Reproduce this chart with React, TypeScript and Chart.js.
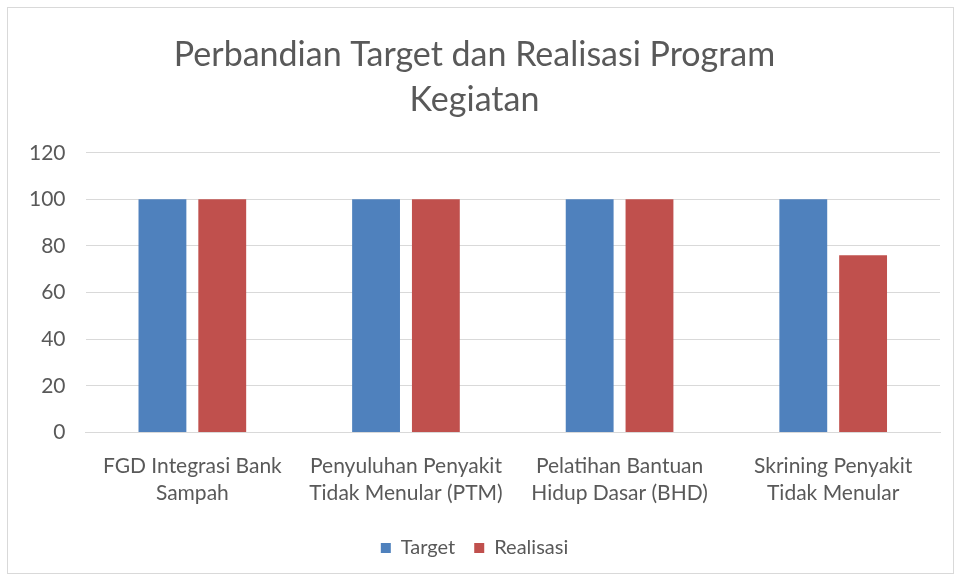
import React, { useEffect, useRef } from "react";
import { Chart, registerables } from "chart.js";

Chart.register(...registerables);

const categories: string[][] = [
  ["FGD Integrasi Bank", "Sampah"],
  ["Penyuluhan Penyakit", "Tidak Menular (PTM)"],
  ["Pelatihan Bantuan", "Hidup Dasar (BHD)"],
  ["Skrining Penyakit", "Tidak Menular"],
];
const targetValues = [100, 100, 100, 100];
const realisasiValues = [100, 100, 100, 76];
const titleLines = ["Perbandian Target dan Realisasi Program", "Kegiatan"];

const FONT = "Lato, 'Open Sans', sans-serif";
const TEXT = "#595959";

export default function App() {
  const ref = useRef<HTMLCanvasElement | null>(null);
  useEffect(() => {
    document.body.style.margin = "0";
    const ctx = ref.current!;
    const chart = new Chart(ctx, {
      type: "bar",
      data: {
        labels: categories,
        datasets: [
          {
            label: "Target",
            data: targetValues,
            backgroundColor: "#4F81BD",
            categoryPercentage: 0.56,
            barPercentage: 0.8,
          },
          {
            label: "Realisasi",
            data: realisasiValues,
            backgroundColor: "#C0504D",
            categoryPercentage: 0.56,
            barPercentage: 0.8,
          },
        ],
      },
      options: {
        animation: false,
        responsive: false,
        maintainAspectRatio: false,
        layout: { padding: { left: 1, right: 13, top: 25, bottom: 5 } },
        plugins: {
          title: {
            display: true,
            text: titleLines,
            color: TEXT,
            font: { family: FONT, size: 34, weight: "normal", lineHeight: 1.32 },
            padding: { top: 0, bottom: 30 },
          },
          legend: {
            position: "bottom",
            labels: {
              color: TEXT,
              font: { family: FONT, size: 20 },
              boxWidth: 10,
              boxHeight: 10,
              padding: 19,
            },
          },
          tooltip: { enabled: false },
        },
        scales: {
          x: {
            grid: { display: false },
            border: { color: "#d9d9d9" },
            ticks: {
              color: TEXT,
              font: { family: FONT, size: 21, lineHeight: 1.3 },
              maxRotation: 0,
              autoSkip: false,
              padding: 12,
            },
          },
          y: {
            min: 0,
            max: 120,
            ticks: {
              stepSize: 20,
              color: TEXT,
              font: { family: FONT, size: 21 },
              padding: 20,
            },
            grid: { color: "#d9d9d9", drawTicks: false },
            border: { display: false },
          },
        },
      },
    });
    return () => chart.destroy();
  }, []);
  return (
    <div style={{ width: 961, height: 581, position: "relative", background: "#fff" }}>
      <div
        style={{
          position: "absolute",
          left: 7,
          top: 7,
          width: 947,
          height: 567,
          border: "1px solid #d9d9d9",
          boxSizing: "border-box",
        }}
      >
        <canvas ref={ref} width={945} height={565} style={{ display: "block" }} />
      </div>
    </div>
  );
}
